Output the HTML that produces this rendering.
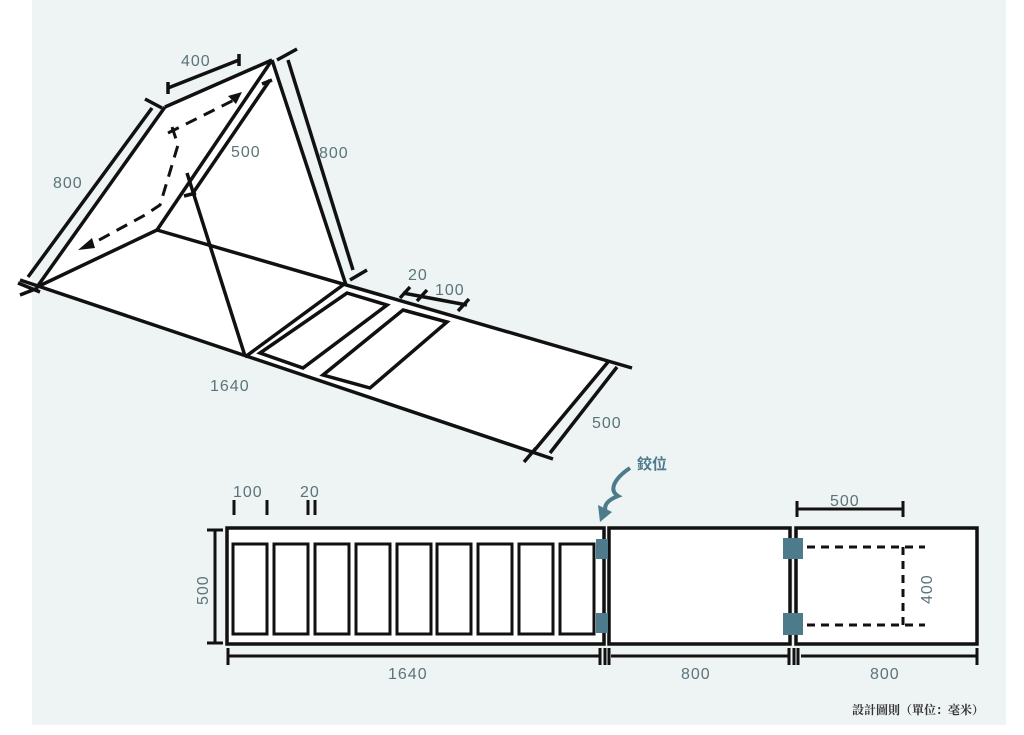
<!DOCTYPE html>
<html><head><meta charset="utf-8"><style>
html,body{margin:0;padding:0;background:#fff;}
svg{display:block;}
.t{font-family:"Liberation Sans",sans-serif;font-size:16px;fill:#5a7479;letter-spacing:1px;}
</style></head><body>
<svg width="1024" height="735" viewBox="0 0 1024 735" xmlns="http://www.w3.org/2000/svg">
<rect x="32" y="0" width="974" height="725" fill="#eef3f4"/>
<g stroke="#111" stroke-width="3.5" fill="none" stroke-linecap="butt">
<polygon points="37,287 157,230 608,362 533,452" fill="#fff" stroke="none"/>
<polygon points="37,287 165,107 272,60 157,230" fill="#fff" stroke="none"/>
<polygon points="157,230 272,60 346,285" fill="#fff" stroke="none"/>
<line x1="37" y1="287" x2="165" y2="107"/>
<line x1="165" y1="107" x2="272" y2="60"/>
<line x1="272" y1="60" x2="346" y2="285"/>
<line x1="272" y1="60" x2="157" y2="230"/>
<line x1="37" y1="287" x2="157" y2="230"/>
<line x1="157" y1="230" x2="632" y2="368"/>
<line x1="20" y1="280" x2="553" y2="459"/>
<line x1="608" y1="362" x2="533" y2="452"/>
<line x1="187" y1="173" x2="245" y2="356"/>
<line x1="343" y1="285" x2="245" y2="357"/>
<polygon points="347,293 387,305 303,368 260,353"/>
<polygon points="403,310 447,322 370,388 323,375"/>
<line x1="28" y1="277" x2="152" y2="108"/>
<line x1="145" y1="99" x2="162" y2="108"/>
<line x1="18" y1="283" x2="40" y2="292"/>
<line x1="20" y1="295" x2="38" y2="288"/>
<line x1="168" y1="88" x2="239" y2="60"/>
<line x1="168" y1="82" x2="168" y2="94"/>
<line x1="239" y1="54" x2="239" y2="66"/>
<line x1="288" y1="60" x2="353" y2="270"/>
<line x1="277" y1="60" x2="297" y2="49"/>
<line x1="350" y1="280" x2="367" y2="270"/>
<line x1="270" y1="80" x2="193" y2="193"/>
<line x1="262" y1="84" x2="272" y2="80"/>
<line x1="184" y1="196" x2="196" y2="193"/>
<line x1="403" y1="293" x2="467" y2="305"/>
<line x1="400" y1="298" x2="410" y2="287"/>
<line x1="417" y1="301" x2="427" y2="290"/>
<line x1="458" y1="311" x2="469" y2="299"/>
<line x1="617" y1="367" x2="550" y2="453"/>
<line x1="524" y1="462" x2="536" y2="448"/>
</g>
<g stroke="#111" stroke-width="3" fill="none" stroke-dasharray="12,8">
<polyline points="172,127 178,145 160,205 145,215 90,245"/>
<line x1="168" y1="133" x2="238" y2="98"/>
</g>
<polygon points="78,250 92,238 95,248" fill="#111"/>
<polygon points="242,92 228,96 236,104" fill="#111"/>
<text class="t" x="181" y="66">400</text>
<text class="t" x="231" y="157">500</text>
<text class="t" x="319" y="158">800</text>
<text class="t" x="53" y="188">800</text>
<text class="t" x="408" y="280">20</text>
<text class="t" x="435" y="295">100</text>
<text class="t" x="210" y="391">1640</text>
<text class="t" x="592" y="428">500</text>
<g stroke="#111" stroke-width="3.5" fill="#fff">
<rect x="227" y="528" width="377" height="116"/>
<rect x="609" y="528" width="181" height="116"/>
<rect x="796" y="528" width="181" height="116"/>
</g>
<g stroke="#111" stroke-width="3" fill="none">
<rect x="233" y="544" width="34" height="90"/>
<rect x="274" y="544" width="34" height="90"/>
<rect x="315" y="544" width="34" height="90"/>
<rect x="356" y="544" width="34" height="90"/>
<rect x="397" y="544" width="34" height="90"/>
<rect x="437" y="544" width="34" height="90"/>
<rect x="478" y="544" width="34" height="90"/>
<rect x="519" y="544" width="34" height="90"/>
<rect x="560" y="544" width="34" height="90"/>
</g>
<g stroke="#111" stroke-width="3">
<line x1="215" y1="530" x2="215" y2="643"/>
<line x1="207" y1="530" x2="223" y2="530"/>
<line x1="207" y1="643" x2="223" y2="643"/>
<line x1="228" y1="656" x2="600" y2="656"/>
<line x1="611" y1="656" x2="788" y2="656"/>
<line x1="801" y1="656" x2="977" y2="656"/>
<line x1="228" y1="648" x2="228" y2="665"/>
<line x1="600" y1="648" x2="600" y2="665"/>
<line x1="605" y1="648" x2="605" y2="665"/>
<line x1="609" y1="648" x2="609" y2="665"/>
<line x1="789" y1="648" x2="789" y2="665"/>
<line x1="794" y1="648" x2="794" y2="665"/>
<line x1="798" y1="648" x2="798" y2="665"/>
<line x1="977" y1="648" x2="977" y2="665"/>
<line x1="234" y1="500" x2="234" y2="515"/>
<line x1="267" y1="500" x2="267" y2="515"/>
<line x1="308" y1="500" x2="308" y2="515"/>
<line x1="315" y1="500" x2="315" y2="515"/>
<line x1="797" y1="509" x2="903" y2="509"/>
<line x1="797" y1="501" x2="797" y2="517"/>
<line x1="903" y1="501" x2="903" y2="517"/>
</g>
<g stroke="#111" stroke-width="3" fill="none" stroke-dasharray="8,6">
<line x1="807" y1="547" x2="925" y2="547"/>
<line x1="807" y1="625" x2="925" y2="625"/>
<line x1="903" y1="547" x2="903" y2="625"/>
</g>
<g fill="#4d7b8c">
<rect x="596" y="539" width="12" height="20"/>
<rect x="596" y="613" width="12" height="20"/>
<rect x="783" y="538" width="20" height="21"/>
<rect x="783" y="613" width="20" height="22"/>
</g>
<path d="M630,468 C615,478 608,490 618,496 C608,500 603,505 606,512" stroke="#4d7b8c" stroke-width="4" fill="none"/>
<polygon points="600,522 598,505 612,512" fill="#4d7b8c"/>
<text x="637" y="469" font-family="'Liberation Sans','Noto Sans CJK TC',sans-serif" font-size="15" font-weight="bold" fill="#4d7b8c">鉸位</text>
<text class="t" x="233" y="497">100</text>
<text class="t" x="300" y="497">20</text>
<text class="t" x="830" y="506">500</text>
<text class="t" x="388" y="679">1640</text>
<text class="t" x="681" y="679">800</text>
<text class="t" x="870" y="679">800</text>
<text class="t" transform="translate(208,605) rotate(-90)">500</text>
<text class="t" transform="translate(932,604) rotate(-90)">400</text>
<text x="852" y="714" font-family="'Liberation Serif','Noto Serif CJK SC',serif" font-size="12" font-weight="bold" fill="#333">設計圖則（單位：毫米）</text>
</svg>
</body></html>
